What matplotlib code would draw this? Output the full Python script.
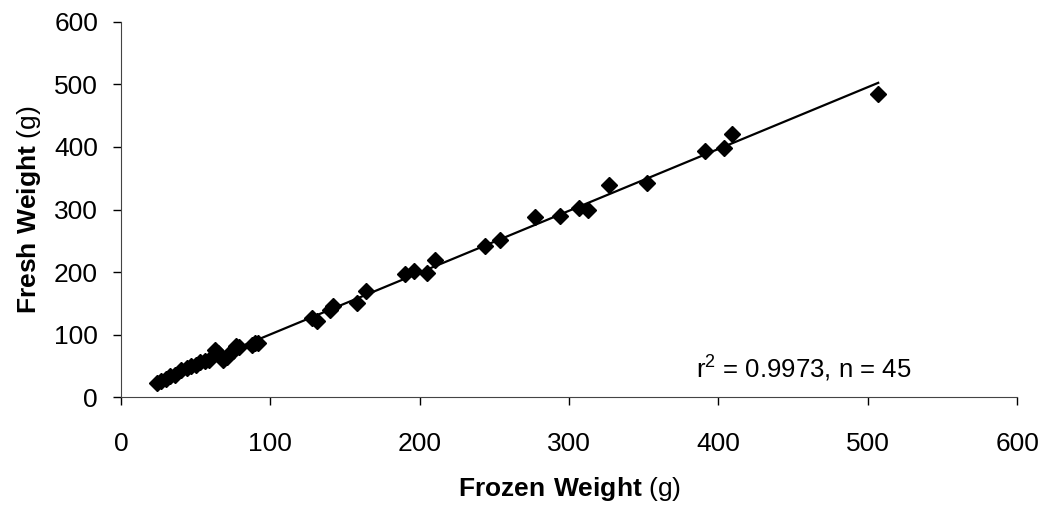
import numpy as np
import matplotlib.pyplot as plt

plt.rcParams['font.family'] = ['Liberation Sans', 'DejaVu Sans']
plt.rcParams['mathtext.fontset'] = 'custom'
plt.rcParams['mathtext.rm'] = 'Liberation Sans'
plt.rcParams['mathtext.bf'] = 'Liberation Sans:bold'

# pesos congelados (x) y frescos (y), en gramos
frozen = [24, 27, 30, 33, 36, 40, 44, 47, 50, 53, 56, 59, 63, 65, 68, 71, 73, 75, 77, 79, 88, 90, 92,
          128, 131, 140, 142, 158, 164, 190, 196, 205, 210, 244, 254, 277, 294, 307, 313, 327, 352,
          391, 404, 409, 507]
fresh = [23, 25, 29, 34, 36, 43, 46, 49, 52, 56, 58, 60, 75, 70, 60, 64, 70, 74, 82, 80, 83, 86, 87,
         127, 122, 139, 146, 151, 170, 197, 202, 199, 219, 241, 251, 288, 290, 302, 299, 340, 343,
         393, 398, 420, 485]
stats_text = r'r$^2$ = 0.9973, n = 45'

x = np.array(frozen, dtype=float)
y = np.array(fresh, dtype=float)
slope, intercept = np.polyfit(x, y, 1)
xl = np.array([x.min(), x.max()])

fig = plt.figure(figsize=(10.42, 5.11), dpi=100)
ax = fig.add_axes([0.1161, 0.223, 0.86, 0.734])

ax.plot(xl, slope * xl + intercept, color='black', lw=1.6, zorder=2)
ax.plot(x, y, linestyle='none', marker='D', ms=8, color='black', zorder=3)

ax.set_xlim(0, 600)
ax.set_ylim(0, 600)
ax.set_xticks(range(0, 601, 100))
ax.set_yticks(range(0, 601, 100))
ax.spines['top'].set_visible(False)
ax.spines['right'].set_visible(False)
ax.spines['left'].set_color('#444444')
ax.spines['bottom'].set_color('#444444')
ax.tick_params(direction='out', length=5.5, width=1, color='black', labelsize=19)
ax.tick_params(axis='x', pad=20)
ax.tick_params(axis='y', pad=11)

ax.set_xlabel(r'$\bf{Frozen\ Weight}$ (g)', fontsize=19, labelpad=13)
ax.set_ylabel(r'$\bf{Fresh\ Weight}$ (g)', fontsize=19, labelpad=8)

ax.text(0.642, 0.053, stats_text, transform=ax.transAxes, fontsize=18.5, va='baseline')

fig.savefig('out.png', dpi=100)
